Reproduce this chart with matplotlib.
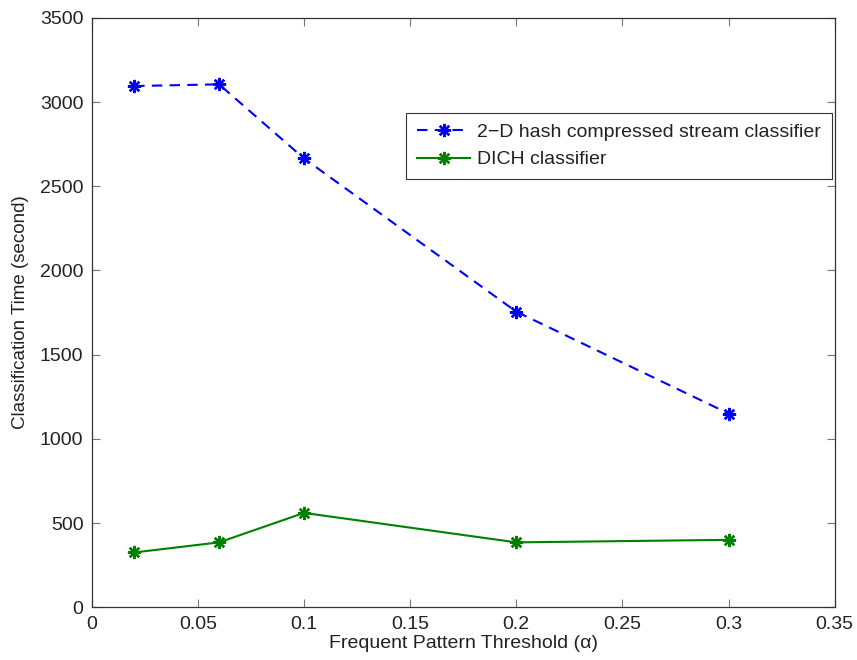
import matplotlib
matplotlib.use("Agg")
import matplotlib.pyplot as plt

plt.rcParams['font.family'] = ['Liberation Sans', 'DejaVu Sans']

# alpha thresholds and classification times (seconds)
alpha = [0.02, 0.06, 0.1, 0.2, 0.3]
hash_time = [3095, 3105, 2665, 1755, 1150]
dich_time = [325, 385, 560, 385, 400]

fig = plt.figure(figsize=(8.57, 6.6), dpi=100)
ax = fig.add_axes([0.107, 0.080, 0.867, 0.893])

asterisk = (8, 2, 0)
ax.plot(alpha, hash_time, color='#0000ff', linestyle=(0, (5, 3.5)), linewidth=1.5,
        marker=asterisk, markersize=9.5, markeredgewidth=1.7,
        label='2\u2212D hash compressed stream classifier')
ax.plot(alpha, dich_time, color='#008000', linestyle='-', linewidth=1.5,
        marker=asterisk, markersize=9.5, markeredgewidth=1.7,
        label='DICH classifier')

ax.set_xlim(0, 0.35)
ax.set_ylim(0, 3500)
ax.set_xticks([0, 0.05, 0.1, 0.15, 0.2, 0.25, 0.3, 0.35])
ax.set_xticklabels(['0', '0.05', '0.1', '0.15', '0.2', '0.25', '0.3', '0.35'])
ax.set_yticks(range(0, 3501, 500))
ax.tick_params(direction='in', top=True, right=True, labelsize=14, length=6,
               color='#777777', pad=6, labelcolor='#222222')
for s in ax.spines.values():
    s.set_linewidth(0.9)
    s.set_color('#333333')

ax.set_xlabel('Frequent Pattern Threshold (\u03b1)', fontsize=14, labelpad=2,
              color='#222222')
ax.set_ylabel('Classification Time (second)', fontsize=13.5, labelpad=8,
              color='#222222')

leg = ax.legend(loc='upper right', bbox_to_anchor=(0.996, 0.839), fontsize=14,
                frameon=True, fancybox=False, handlelength=2.75,
                borderpad=0.55, labelspacing=0.5, handletextpad=0.35,
                borderaxespad=0)
leg.get_frame().set_edgecolor('black')
leg.get_frame().set_linewidth(0.8)
for t in leg.get_texts():
    t.set_color('#222222')

fig.savefig('out.png', dpi=100)
